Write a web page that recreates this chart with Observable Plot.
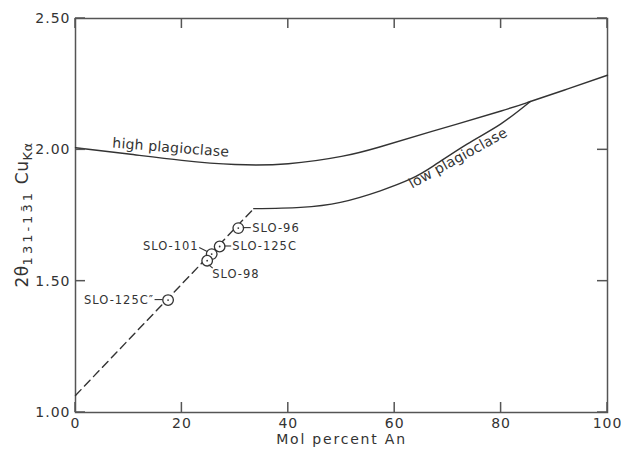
<!DOCTYPE html>
<html><head><meta charset="utf-8">
<script src="https://cdn.jsdelivr.net/npm/d3@7"></script>
<script src="https://cdn.jsdelivr.net/npm/@observablehq/plot@0.6"></script>
<style>
body{margin:0;background:#fff;}
#chart{position:absolute;left:0;top:0;}
</style></head><body><div id="chart"></div>
<script>
// ---- data ----
const xTicks = [0, 20, 40, 60, 80, 100];
const yTicks = [1.00, 1.50, 2.00, 2.50];
const highAn = [0, 10, 20, 30, 40, 50, 57, 67, 80, 85.5, 92.4, 100];
const highV  = [2.008, 1.984, 1.960, 1.944, 1.947, 1.975, 2.010, 2.070, 2.148, 2.184, 2.231, 2.284];
const lowAn  = [33.5, 42.3, 49.8, 57.3, 63, 67.3, 73.6, 79.9, 85.5];
const lowV   = [1.776, 1.781, 1.800, 1.844, 1.889, 1.939, 2.022, 2.098, 2.184];
const trendAn = [0, 33.5];
const trendV  = [1.065, 1.776];
const sampleNames = ["SLO-96", "SLO-125C", "SLO-101", "SLO-98", "SLO-125C\u2033"];
const sampleAn = [30.6, 27.1, 25.6, 24.75, 17.4];
const sampleV  = [1.702, 1.632, 1.603, 1.578, 1.428];
const curveLabels = ["high plagioclase", "low plagioclase"];
const curveLabelAn = [17.9, 71.9];
const curveLabelV  = [2.008, 1.968];
const xLabel = "Mol percent An";

// ---- build ----
const W = 621, H = 452;
const mL = 75, mR = 14, mT = 18, mB = 40;
const TL = 10;
const ink = "#333", frameInk = "#555";
const font = "DejaVu Sans, sans-serif";

const high = highAn.map((a, i) => ({an: a, v: highV[i]}));
const low = lowAn.map((a, i) => ({an: a, v: lowV[i]}));
const trend = trendAn.map((a, i) => ({an: a, v: trendV[i]}));
const samples = sampleNames.map((n, i) => ({name: n, an: sampleAn[i], v: sampleV[i]}));
const curveLab = curveLabels.map((n, i) => ({name: n, an: curveLabelAn[i], v: curveLabelV[i]}));

const labelPos = [
  {anchor: "start", dx: 14, dy: 0, lead: [5, 0, 13, 0]},
  {anchor: "start", dx: 12.5, dy: 0, lead: [5, 0, 12, 0]},
  {anchor: "end", dx: -13, dy: -7.5, lead: [-4, -2, -12, -6]},
  {anchor: "start", dx: 5, dy: 13.5, lead: [2, 4.5, 6, 8]},
  {anchor: "end", dx: -14, dy: 0, lead: [-5, 0, -13, 0]}
];
const curveRot = [4.5, -29];

const marks = [
  Plot.axisX(xTicks, {tickSize: 0, tickPadding: 6, tickFormat: d => String(d), label: null, fontSize: 14, fill: ink}),
  Plot.axisY(yTicks, {tickSize: 0, tickPadding: 5, tickFormat: d => d.toFixed(2), label: null, fontSize: 14, fill: ink}),
  Plot.frame({stroke: frameInk, strokeWidth: 1.5}),
  Plot.line(high, {x: "an", y: "v", curve: "natural", stroke: ink, strokeWidth: 1.4}),
  Plot.line(low, {x: "an", y: "v", curve: "natural", stroke: ink, strokeWidth: 1.4}),
  Plot.line(trend, {x: "an", y: "v", stroke: ink, strokeWidth: 1.4, strokeDasharray: "8,5"}),
  Plot.dot(samples, {x: "an", y: "v", r: 5.3, fill: "white", stroke: ink, strokeWidth: 1.3}),
  Plot.dot(samples, {x: "an", y: "v", r: 0.9, fill: ink}),
  ...samples.map((s, i) => Plot.text([s], {x: "an", y: "v", text: "name", textAnchor: labelPos[i].anchor,
      dx: labelPos[i].dx, dy: labelPos[i].dy, fontSize: 11.5, fill: ink, className: "lab-s"})),
  ...curveLab.map((c, i) => Plot.text([c], {x: "an", y: "v", text: "name", rotate: curveRot[i], fontSize: 14, fill: ink, className: "lab-c"})),
  Plot.text([xLabel], {frameAnchor: "bottom", dy: 31, text: d => d, fontSize: 14, fill: ink, className: "lab-x"})
];

const chart = Plot.plot({
  width: W, height: H,
  marginLeft: mL, marginRight: mR, marginTop: mT, marginBottom: mB,
  style: {fontFamily: font, background: "white", color: ink, overflow: "visible"},
  x: {domain: [0, 100]},
  y: {domain: [1, 2.5]},
  marks
});
document.getElementById("chart").appendChild(chart);

const svg = d3.select(chart);
svg.selectAll("text").style("letter-spacing", "1px");
svg.selectAll(".lab-c text").style("letter-spacing", "0.2px");
svg.selectAll(".lab-x text").style("letter-spacing", "1.8px");
const xs = chart.scale("x"), ys = chart.scale("y");

function seg(x1, y1, x2, y2, color, w) {
  svg.append("line").attr("x1", x1).attr("y1", y1).attr("x2", x2).attr("y2", y2)
    .attr("stroke", color).attr("stroke-width", w);
}
// inward ticks on all four sides
xTicks.forEach(t => {
  const px = xs.apply(t);
  seg(px, H - mB, px, H - mB - TL, frameInk, 1.5);
  seg(px, mT, px, mT + TL, frameInk, 1.5);
});
yTicks.forEach(t => {
  const py = ys.apply(t);
  seg(mL, py, mL + TL, py, frameInk, 1.5);
  seg(W - mR, py, W - mR - TL, py, frameInk, 1.5);
});

// leader lines for sample labels
samples.forEach((s, i) => {
  const px = xs.apply(s.an), py = ys.apply(s.v), L = labelPos[i].lead;
  seg(px + L[0], py + L[1], px + L[2], py + L[3], ink, 1.1);
});

// y-axis label with subscripts
const yl = svg.append("text")
  .attr("transform", `translate(28,${(mT + H - mB) / 2}) rotate(-90)`)
  .attr("text-anchor", "middle").attr("fill", ink)
  .style("font-family", font).style("font-size", "17px").style("letter-spacing", "0.5px");
yl.append("tspan").text("2\u03B8");
yl.append("tspan").attr("dy", 4).style("font-size", "13px").style("letter-spacing", "3px").text("131-13\u03041");
yl.append("tspan").attr("dy", -4).text(" Cu");
yl.append("tspan").attr("dy", 4).style("font-size", "13px").text("K\u03B1");
</script></body></html>
